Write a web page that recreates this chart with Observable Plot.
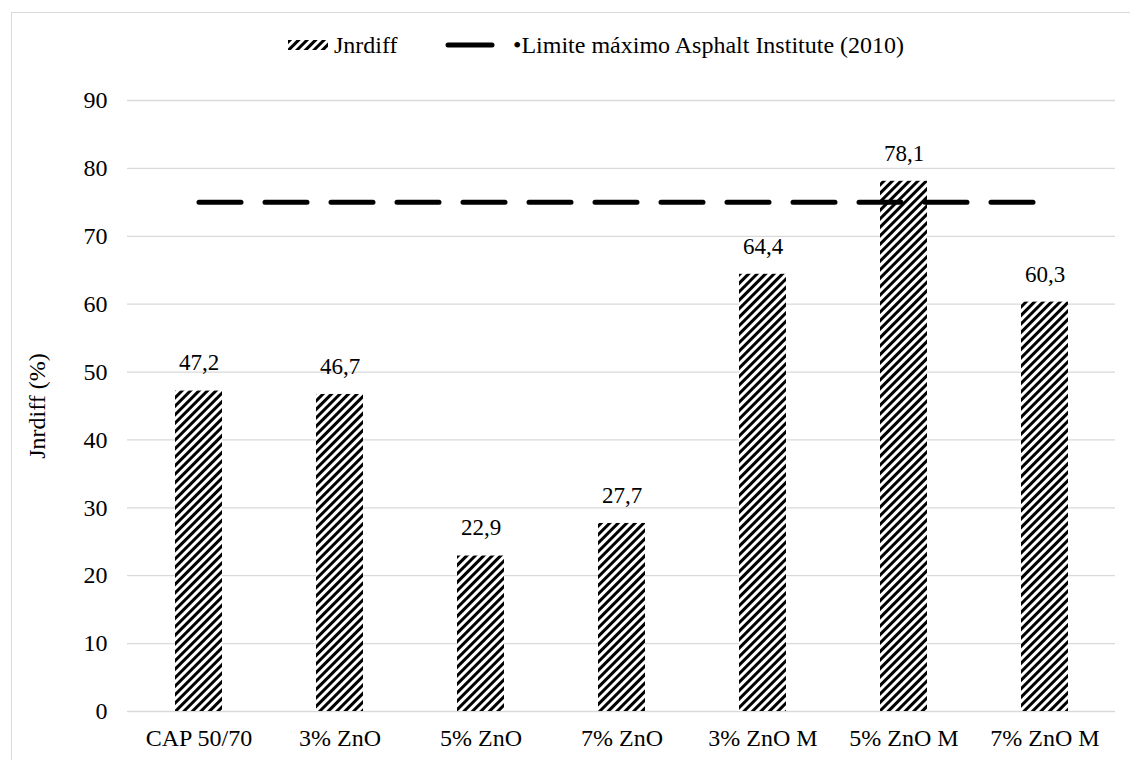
<!DOCTYPE html>
<html><head><meta charset="utf-8">
<script src="https://cdn.jsdelivr.net/npm/d3@7"></script>
<script src="https://cdn.jsdelivr.net/npm/@observablehq/plot@0.6"></script>
<style>
body{margin:0;background:#fff;font-family:'Liberation Serif','Tinos','DejaVu Serif',serif;color:#000;}
#wrap{position:relative;width:1130px;height:760px;overflow:hidden;}
#frame{position:absolute;left:11px;top:12px;width:1200px;height:900px;border:1px solid #d9d9d9;box-sizing:border-box;pointer-events:none}
#legend{position:relative;height:70px;font-size:24px;}
#legend .t{position:absolute;top:31px;line-height:28px;white-space:nowrap}
#legend svg{position:absolute}
svg text{font-family:'Liberation Serif','Tinos','DejaVu Serif',serif;}
</style></head><body>
<div id="wrap">
  <div id="legend">
    <svg style="left:288px;top:40px" width="40" height="10">
      <defs><pattern id="hatchL" width="6" height="6" patternUnits="userSpaceOnUse" patternTransform="rotate(45)"><rect width="6" height="6" fill="#fff"/><rect width="3" height="6" fill="#000"/></pattern></defs>
      <rect width="40" height="10" fill="url(#hatchL)"/>
    </svg>
    <span class="t" style="left:334px">Jnrdiff</span>
    <svg style="left:444px;top:40px" width="52" height="10"><line x1="4" y1="5" x2="48" y2="5" stroke="#000" stroke-width="5" stroke-linecap="round"/></svg>
    <span class="t" style="left:513px">•Limite máximo Asphalt Institute (2010)</span>
  </div>
  <div id="chart"></div>
  <div id="frame"></div>
</div>
<script>
const categories = ["CAP 50/70", "3% ZnO", "5% ZnO", "7% ZnO", "3% ZnO M", "5% ZnO M", "7% ZnO M"];
const jnrdiff = [47.2, 46.7, 22.9, 27.7, 64.4, 78.1, 60.3];
const limiteMaximo = [75, 75, 75, 75, 75, 75, 75];
const yTicks = [0, 10, 20, 30, 40, 50, 60, 70, 80, 90];

const data = categories.map((c, i) => ({cat: c, v: jnrdiff[i], lim: limiteMaximo[i]}));

const defsMark = () => {
  const g = d3.create("svg:g");
  const p = g.append("defs").append("pattern")
    .attr("id", "hatch").attr("width", 6).attr("height", 6)
    .attr("patternUnits", "userSpaceOnUse").attr("patternTransform", "rotate(45)");
  p.append("rect").attr("width", 6).attr("height", 6).attr("fill", "#fff");
  p.append("rect").attr("width", 3).attr("height", 6).attr("fill", "#000");
  return g.node();
};

const chart = Plot.plot({
  width: 1130,
  height: 690,
  marginTop: 30,
  marginBottom: 49,
  marginLeft: 127,
  marginRight: 15,
  style: {fontSize: "24px", color: "#000", background: "transparent", overflow: "visible"},
  x: {domain: categories, paddingInner: 0.667, paddingOuter: 0.333},
  y: {domain: [0, 90]},
  marks: [
    defsMark,
    Plot.ruleY(yTicks, {stroke: "#d9d9d9", strokeWidth: 1.3}),
    Plot.barY(data, {x: "cat", y: "v", fill: "url(#hatch)"}),
    Plot.text(data, {x: "cat", y: "v", text: d => d.v.toFixed(1).replace(".", ","), dy: -28, fontSize: 23}),
    Plot.line(data, {x: "cat", y: "lim", stroke: "#000", strokeWidth: 5, strokeDasharray: "42,24", strokeLinecap: "round"}),
    Plot.axisX({tickSize: 0, tickPadding: 17, label: null, fontSize: 24}),
    Plot.axisY({ticks: yTicks, tickSize: 0, tickPadding: 20, label: "Jnrdiff (%)", labelAnchor: "center", labelOffset: 100, labelArrow: "none", fontSize: 24})
  ]
});
document.getElementById("chart").appendChild(chart);
</script>
</body></html>
